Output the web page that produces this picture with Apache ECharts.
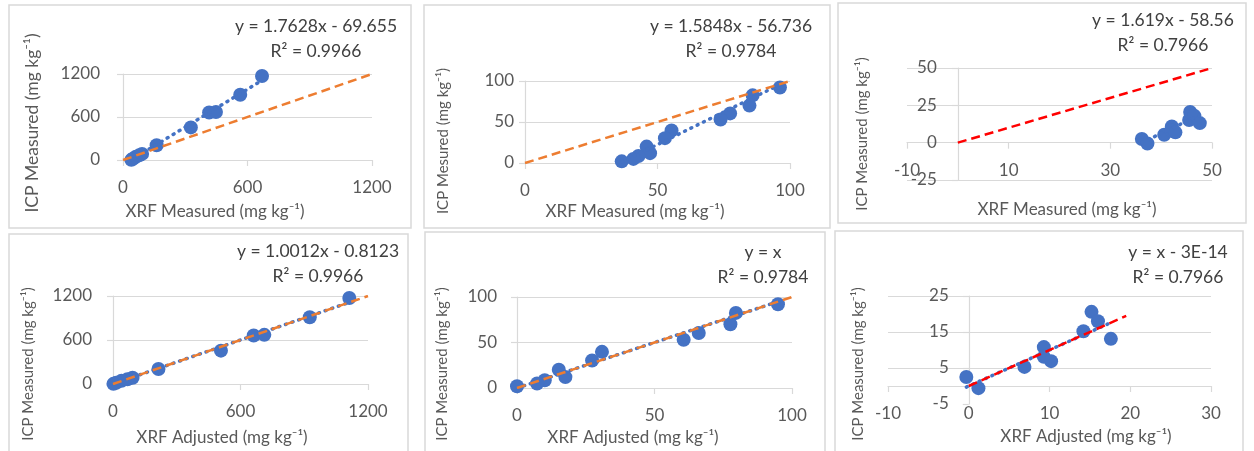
<!DOCTYPE html>
<html lang="en">
<head>
<meta charset="UTF-8">
<title>XRF vs ICP</title>
<script src="https://cdn.jsdelivr.net/npm/echarts@6/dist/echarts.min.js"></script>
</head>
<body style="margin:0;background:#fff">
<div id="main" style="width:1254px;height:451px"></div>
<script>
// element A (0-1200 mg/kg)
var xrfA = [670, 565, 415, 448, 327, 162, 92, 78, 62, 48, 40];
var adjA = [1112, 926, 662, 712, 508, 214, 92, 68, 40, 15, 2];
var icpA = [1172, 910, 662, 670, 455, 205, 85, 65, 45, 18, 2];
// element B (0-100 mg/kg)
var xrfB = [93.7, 96.2, 85.9, 84.7, 77.4, 73.8, 55.3, 52.8, 45.9, 47.2, 42.8, 40.9, 36.5];
var adjB = [92.7, 94.9, 79.6, 77.6, 66.1, 60.6, 30.9, 27.3, 15.2, 17.6, 10.1, 7.3, 0];
var icpB = [103, 92, 82.5, 70, 60.5, 53, 39.7, 30.3, 20, 12, 8.5, 5, 2];
// element C (0-50 mg/kg)
var xrfC = [36.2, 37.3, 40.6, 42.1, 42.0, 42.8, 45.5, 45.7, 46.5, 47.6];
var adjC = [-0.3, 1.2, 6.9, 9.3, 9.3, 10.2, 14.2, 15.2, 16.0, 17.6];
var icpC = [2.5, -0.6, 5.3, 10.8, 8.1, 6.9, 15.2, 20.6, 18, 13.1];

// trendlines [slope, intercept] as printed
var fits = [[1.7628, -69.655], [1.5848, -56.736], [1.619, -58.56],
            [1.0012, -0.8123], [1, 0], [1, -3e-14]];
var equations = [
    ['y = 1.7628x - 69.655', 'R² = 0.9966'],
    ['y = 1.5848x - 56.736', 'R² = 0.9784'],
    ['y = 1.619x - 58.56', 'R² = 0.7966'],
    ['y = 1.0012x - 0.8123', 'R² = 0.9966'],
    ['y = x', 'R² = 0.9784'],
    ['y = x - 3E-14', 'R² = 0.7966']
];
// 1:1 reference line extent
var refLines = [[0, 1200], [0, 100], [0, 50], [0, 1200], [0, 100], [0, 19.5]];
// axis [min, max, interval]
var xTicks = [[0, 1200, 600], [0, 100, 50], [-10, 50, 20], [0, 1200, 600], [0, 100, 50], [-10, 30, 10]];
var yTicks = [[0, 1200, 600], [0, 100, 50], [-25, 50, 25], [0, 1200, 600], [0, 100, 50], [-5, 25, 10]];
var xNames = ['XRF Measured (mg kg⁻¹)', 'XRF Measured (mg kg⁻¹)', 'XRF Measured (mg kg⁻¹)',
              'XRF Adjusted (mg kg⁻¹)', 'XRF Adjusted (mg kg⁻¹)', 'XRF Adjusted (mg kg⁻¹)'];
var yNames = ['ICP Measured (mg kg⁻¹)', 'ICP Mesured (mg kg⁻¹)', 'ICP Measured (mg kg⁻¹)',
              'ICP Measured (mg kg⁻¹)', 'ICP Measured (mg kg⁻¹)', 'ICP Measured (mg kg⁻¹)'];

var xs = [xrfA, xrfB, xrfC, adjA, adjB, adjC];
var ys = [icpA, icpB, icpC, icpA, icpB, icpC];

// layout
var layout = [
    {grid: [123, 74, 249, 86], ym: 23, box: [9, 5, 402, 223], eq: [316, 14], xt: [215, 212], yt: [32, 123], ytSize: 17.5},
    {grid: [525, 81, 265, 82], ym: 11, box: [424, 5, 406, 223], eq: [731, 14], xt: [635, 212], yt: [443, 141], ytSize: 15},
    {grid: [907, 68, 305, 112], ym: 21, box: [838, 3, 408, 220], eq: [1163, 8], xt: [1067, 210], yt: [862, 134], ytSize: 15},
    {grid: [113, 296, 255, 88], ym: 21, box: [9, 234, 399, 225], eq: [318, 239], xt: [222, 438], yt: [28, 364], ytSize: 15},
    {grid: [517, 297, 275, 91], ym: 20, box: [425, 232, 400, 230], eq: [763, 240], xt: [633, 438], yt: [442, 364], ytSize: 15},
    {grid: [888, 296, 323, 108], ym: 20, box: [835, 231, 408, 230], eq: [1178, 240], xt: [1086, 437], yt: [858, 364], ytSize: 15}
];

var font = 'Lato, "Open Sans", sans-serif';
var grey = '#d9d9d9';
var blue = '#4472C4';
var refColors = ['#ED7D31', '#ED7D31', '#FF0000', '#ED7D31', '#ED7D31', '#FF0000'];

function plain(v) { return String(v); }

var myChart = echarts.init(document.getElementById('main'));
var option = {
    animation: false,
    backgroundColor: '#fff',
    grid: [], xAxis: [], yAxis: [], series: [], graphic: []
};

for (var i = 0; i < 6; i++) {
    var L = layout[i];
    var xr = xTicks[i], yr = yTicks[i];
    // axes cross at zero, labels stay next to the axis line (Excel style)
    var xOff = yr[0] < 0 ? -(-yr[0]) / (yr[1] - yr[0]) * L.grid[3] : 0;
    var yOff = xr[0] < 0 ? -(-xr[0]) / (xr[1] - xr[0]) * L.grid[2] : 0;
    option.grid.push({left: L.grid[0], top: L.grid[1], width: L.grid[2], height: L.grid[3]});
    option.xAxis.push({
        gridIndex: i, type: 'value', position: 'bottom', offset: xOff,
        min: xr[0], max: xr[1], interval: xr[2],
        axisLine: {show: true, onZero: false, lineStyle: {color: grey, width: 1.2}},
        axisTick: {show: true, length: 6, lineStyle: {color: grey, width: 1.2}},
        axisLabel: {margin: 19, color: '#595959', fontSize: 17, fontFamily: font, formatter: plain},
        splitLine: {show: false}
    });
    option.yAxis.push({
        gridIndex: i, type: 'value', position: 'left', offset: yOff,
        min: yr[0], max: yr[1], interval: yr[2],
        axisLine: {show: true, onZero: false, lineStyle: {color: grey, width: 1.2}},
        axisTick: {show: true, length: 6, lineStyle: {color: grey, width: 1.2}},
        axisLabel: {margin: L.ym, color: '#595959', fontSize: 17, fontFamily: font, formatter: plain},
        splitLine: {show: true, showMinLine: i !== 5, lineStyle: {color: grey, width: 1.2}}
    });

    var pts = [];
    for (var j = 0; j < xs[i].length; j++) pts.push([xs[i][j], ys[i][j]]);
    option.series.push({
        type: 'scatter', xAxisIndex: i, yAxisIndex: i, data: pts,
        symbolSize: 14, itemStyle: {color: blue, opacity: 1}, z: 2
    });

    var lo = Math.min.apply(null, xs[i]), hi = Math.max.apply(null, xs[i]);
    var a = fits[i][0], b = fits[i][1];
    option.series.push({
        type: 'line', xAxisIndex: i, yAxisIndex: i, symbol: 'none',
        data: [[lo, a * lo + b], [hi, a * hi + b]],
        lineStyle: {color: blue, width: 3.5, type: [1, 6], cap: 'round'}, z: 3
    });
    option.series.push({
        type: 'line', xAxisIndex: i, yAxisIndex: i, symbol: 'none',
        data: [[refLines[i][0], refLines[i][0]], [refLines[i][1], refLines[i][1]]],
        lineStyle: {color: refColors[i], width: 2.5, type: [9, 5]}, z: 4
    });

    option.graphic.push({
        type: 'rect', shape: {x: L.box[0], y: L.box[1], width: L.box[2], height: L.box[3]},
        style: {fill: 'none', stroke: grey, lineWidth: 1.5}, silent: true
    });
    option.graphic.push({
        type: 'text', x: L.eq[0], y: L.eq[1],
        style: {text: equations[i].join('\n'), align: 'center', verticalAlign: 'top', lineHeight: 25,
                fontSize: 17.5, fontFamily: font, fill: '#404040'}
    });
    option.graphic.push({
        type: 'text', x: L.xt[0], y: L.xt[1],
        style: {text: xNames[i], align: 'center', verticalAlign: 'middle',
                fontSize: 17, fontFamily: font, fill: '#595959'}
    });
    option.graphic.push({
        type: 'text', x: L.yt[0], y: L.yt[1], rotation: Math.PI / 2,
        style: {text: yNames[i], align: 'center', verticalAlign: 'middle',
                fontSize: L.ytSize, fontFamily: font, fill: '#595959'}
    });
}

myChart.setOption(option);
</script>
</body>
</html>
